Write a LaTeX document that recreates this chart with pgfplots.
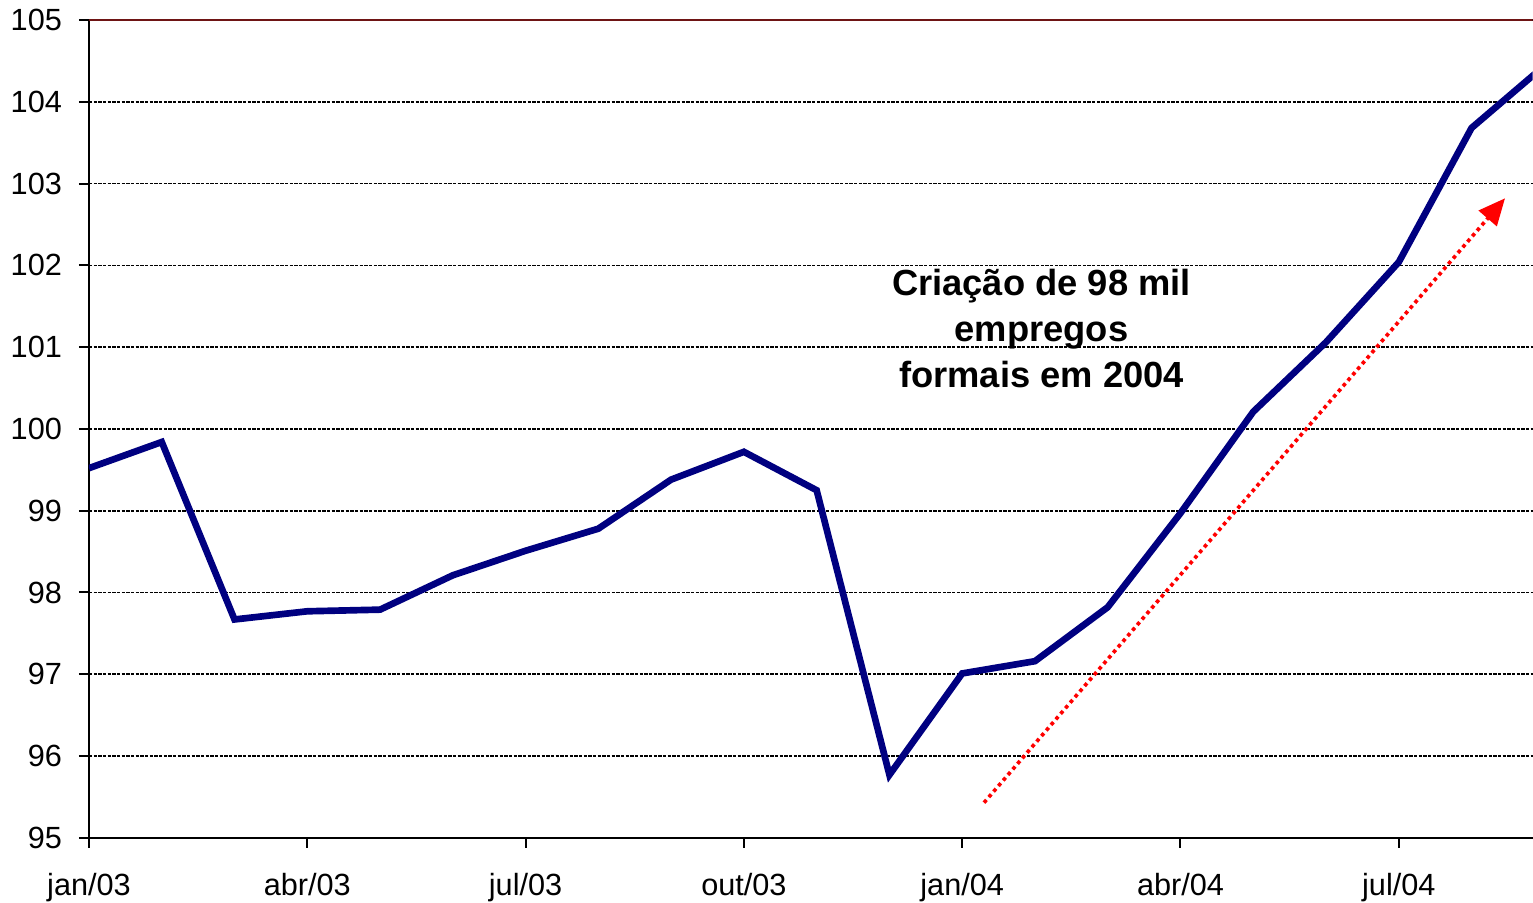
\documentclass[border=0pt]{standalone}
\usepackage{fontspec}
\setmainfont{Liberation Sans}
\usepackage{pgfplots}
\pgfplotsset{compat=1.18}
\usetikzlibrary{arrows.meta}
\definecolor{navyline}{RGB}{0,0,128}
\definecolor{darkred}{RGB}{110,20,20}
\begin{document}
\begin{tikzpicture}
\useasboundingbox (-26.7pt,-19.5pt) rectangle (433.3pt,251.4pt);
\begin{axis}[
  scale only axis,
  width=433.2pt, height=245.4pt,
  xmin=0, xmax=19.84, ymin=95, ymax=105,
  axis x line*=bottom, axis y line*=left,
  axis line style={black, line width=0.6pt, -},
  xtick={0,3,6,9,12,15,18},
  xticklabels={jan/03,abr/03,jul/03,out/03,jan/04,abr/04,jul/04},
  ytick={95,96,...,105},
  tick align=outside,
  major tick length=3pt,
  tick style={black, line width=0.6pt},
  ymajorgrids,
  major grid style={black, line width=0.5pt, dash pattern=on 1pt off 0.4pt},
  ticklabel style={font=\fontsize{9.2}{11}\selectfont},
  /pgf/number format/assume math mode=true,
  yticklabel shift=1.6pt,
  xticklabel shift=4.2pt,
  clip=true,
]
\addplot[navyline, line width=2pt, line join=miter] coordinates {
(0,99.52) (1,99.84) (2,97.67) (3,97.77) (4,97.79) (5,98.21)
(6,98.51) (7,98.78) (8,99.38) (9,99.72) (10,99.25) (11,95.77)
(12,97.01) (13,97.16) (14,97.82) (15,98.97) (16,100.21) (17,101.06)
(18,102.04) (19,103.68) (20,104.44)
};
\addplot[red, line width=1.1pt, dash pattern=on 1.1pt off 1.1pt,
  -{Triangle[length=8pt,width=7pt]}] coordinates {(12.30,95.43) (19.46,102.82)};
\draw[darkred, line width=0.6pt] (rel axis cs:0,1) -- (rel axis cs:1,1);
\node[align=center, font=\fontsize{10.9}{13.8}\selectfont\bfseries]
  at (axis cs:13.09,101.23) {Criação de 98 mil\\empregos\\formais em 2004};
\end{axis}
\end{tikzpicture}
\end{document}
